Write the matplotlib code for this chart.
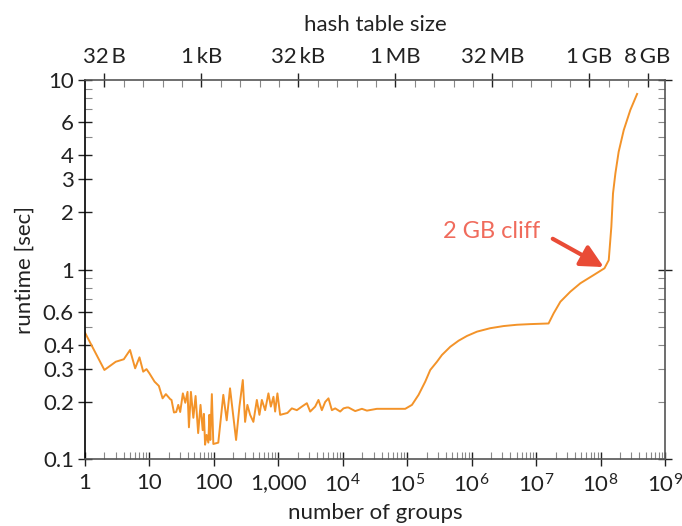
import matplotlib
matplotlib.use("Agg")
import matplotlib.pyplot as plt
from matplotlib.ticker import FixedLocator, NullFormatter

# number of groups vs runtime
groups = [1, 2, 3, 4, 5, 6, 7, 8, 9, 10, 12, 14, 16, 18, 21, 22, 24, 26, 28, 30,
          33, 36, 39, 41, 44, 48, 52, 57, 62, 67, 70, 73, 77, 82, 85, 88, 93, 98,
          117, 140, 158, 178, 221, 249, 281, 305, 331, 365, 410, 464, 509, 555,
          624, 702, 765, 840, 892, 968, 1067, 1384, 1621, 1938, 2316, 2771, 3120,
          3727, 4195, 4736, 5330, 5998, 6773, 7625, 9120, 10260, 11580, 12250,
          15590, 19800, 23680, 33870, 54450, 93050, 118400, 149900, 190400,
          227700, 289200, 345800, 465400, 626500, 845500, 1.21e6, 1.94e6, 3.13e6,
          5.05e6, 8.13e6, 1.56e7, 1.87e7, 2.38e7, 3.40e7, 4.86e7, 7.82e7, 1.15e8,
          1.34e8, 1.47e8, 1.56e8, 1.70e8, 1.91e8, 2.29e8, 2.90e8, 3.69e8]
runtime = [0.464, 0.295, 0.326, 0.336, 0.376, 0.301, 0.344, 0.289, 0.298, 0.283,
           0.256, 0.243, 0.209, 0.220, 0.207, 0.205, 0.176, 0.177, 0.193, 0.177,
           0.222, 0.198, 0.226, 0.147, 0.226, 0.165, 0.215, 0.137, 0.193, 0.142,
           0.173, 0.119, 0.134, 0.122, 0.171, 0.126, 0.220, 0.120, 0.122, 0.218,
           0.160, 0.236, 0.126, 0.189, 0.261, 0.157, 0.193, 0.171, 0.157, 0.205,
           0.171, 0.205, 0.181, 0.222, 0.189, 0.213, 0.178, 0.222, 0.171, 0.175,
           0.185, 0.181, 0.189, 0.197, 0.178, 0.189, 0.205, 0.181, 0.200, 0.209,
           0.181, 0.185, 0.178, 0.185, 0.187, 0.187, 0.179, 0.184, 0.180, 0.184,
           0.184, 0.184, 0.193, 0.218, 0.256, 0.295, 0.326, 0.354, 0.391, 0.421,
           0.446, 0.470, 0.490, 0.503, 0.511, 0.515, 0.519, 0.587, 0.676, 0.764,
           0.846, 0.935, 1.015, 1.12, 1.68, 2.52, 3.22, 4.18, 5.44, 6.95, 8.44]

y_major = [0.1, 0.2, 0.3, 0.4, 0.6, 1, 2, 3, 4, 6, 10]
y_major_labels = ["0.1", "0.2", "0.3", "0.4", "0.6", "1", "2", "3", "4", "6", "10"]
y_minor = [0.5, 0.7, 0.8, 0.9, 5, 7, 8, 9]
x_major = [1, 10, 100, 1e3, 1e4, 1e5, 1e6, 1e7, 1e8, 1e9]
x_major_labels = ["1", "10", "100", "1,000", "$10^4$", "$10^5$", "$10^6$",
                  "$10^7$", "$10^8$", "$10^9$"]
bytes_per_group = 16
size_ticks = [32, 2**10, 2**15, 2**20, 2**25, 2**30, 2**33]
size_labels = ["32\u2009B", "1\u2009kB", "32\u2009kB", "1\u2009MB", "32\u2009MB",
               "1\u2009GB", "8\u2009GB"]

line_col = "#f39329"
note_col = "#f06b5c"
arrow_col = "#e94b36"
dark = "#222222"
grey = "#888888"

plt.rcParams["font.family"] = ["Lato", "DejaVu Sans"]
plt.rcParams["mathtext.default"] = "regular"
plt.rcParams["font.size"] = 16

fig = plt.figure(figsize=(6.82, 5.26), dpi=100)
ax = fig.add_axes([85 / 682, 1 - 459 / 526, 580 / 682, 379 / 526])

ax.plot(groups, runtime, color=line_col, lw=1.4)
ax.set_xscale("log")
ax.set_yscale("log")
ax.set_xlim(1, 1e9)
ax.set_ylim(0.1, 10)

ax.xaxis.set_major_locator(FixedLocator(x_major))
ax.set_xticklabels(x_major_labels)
minx = [m * 10**e for e in range(9) for m in range(2, 10)]
ax.xaxis.set_minor_locator(FixedLocator(minx))
ax.xaxis.set_minor_formatter(NullFormatter())
ax.yaxis.set_major_locator(FixedLocator(y_major))
ax.set_yticklabels(y_major_labels)
ax.yaxis.set_minor_locator(FixedLocator(y_minor))
ax.yaxis.set_minor_formatter(NullFormatter())

ax.tick_params(which="major", direction="inout", length=10, width=1,
               color=dark, labelcolor=dark, pad=3)
ax.tick_params(which="minor", direction="in", length=5, width=0.8, color=grey)
ax.tick_params(axis="x", which="major", pad=5)

for side in ["top", "right", "bottom"]:
    ax.spines[side].set_color("#555555")
    ax.spines[side].set_linewidth(1.2)
ax.spines["left"].set_color("black")
ax.spines["left"].set_linewidth(1.2)

ax.set_xlabel("number of groups", color=dark, labelpad=5)
ax.set_ylabel("runtime [sec]", color=dark, labelpad=6)

# right side: decade ticks mirrored
ay = ax.secondary_yaxis("right")
ay.yaxis.set_major_locator(FixedLocator([0.1, 1, 10]))
ay.yaxis.set_minor_locator(FixedLocator([m * 10**e for e in (-1, 0) for m in range(2, 10)]))
ay.yaxis.set_major_formatter(NullFormatter())
ay.yaxis.set_minor_formatter(NullFormatter())
ay.tick_params(which="major", direction="inout", length=10, width=1, color=dark)
ay.tick_params(which="minor", direction="in", length=5, width=0.8, color=grey)
ay.spines["right"].set_visible(False)

# top: hash table size in bytes
ax2 = ax.secondary_xaxis("top", functions=(lambda g: g * bytes_per_group,
                                          lambda b: b / bytes_per_group))
ax2.xaxis.set_major_locator(FixedLocator(size_ticks))
ax2.set_xticklabels(size_labels)
pow2 = [2.0**k for k in range(5, 34) if 2**k not in size_ticks]
ax2.xaxis.set_minor_locator(FixedLocator(pow2))
ax2.xaxis.set_minor_formatter(NullFormatter())
ax2.tick_params(which="major", direction="inout", length=10, width=1,
                color=dark, labelcolor=dark, pad=4)
ax2.tick_params(which="minor", direction="in", length=5, width=0.8, color=grey)
ax2.spines["top"].set_visible(False)
ax2.set_xlabel("hash table size", color=dark, labelpad=12)

ax.annotate("2 GB cliff", xy=(1.12e8, 1.03), xytext=(1.16e7, 1.58),
            ha="right", va="center", color=note_col, fontsize=17,
            arrowprops=dict(arrowstyle="-|>,head_length=0.8,head_width=0.4",
                            color=arrow_col, lw=3, shrinkA=8, shrinkB=0,
                            relpos=(1, 0.5)))

fig.savefig("out.png", dpi=100)
